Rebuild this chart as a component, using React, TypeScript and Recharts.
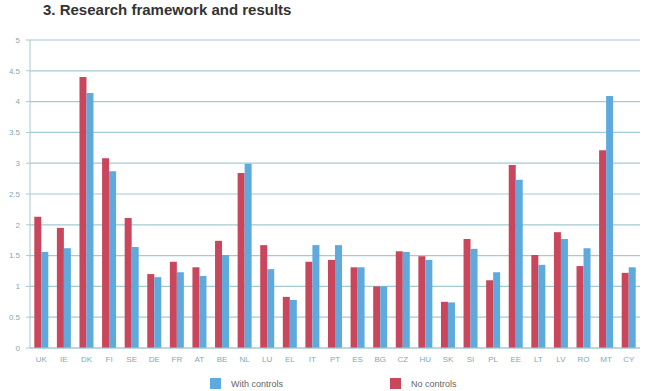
import { BarChart, Bar, XAxis, YAxis, CartesianGrid, Legend } from "recharts";

const countries = [
  "UK", "IE", "DK", "FI", "SE", "DE", "FR", "AT", "BE", "NL", "LU", "EL", "IT", "PT",
  "ES", "BG", "CZ", "HU", "SK", "SI", "PL", "EE", "LT", "LV", "RO", "MT", "CY",
];
const noControls = [
  2.13, 1.95, 4.4, 3.08, 2.11, 1.2, 1.4, 1.31, 1.74, 2.84, 1.67, 0.83, 1.4, 1.43,
  1.31, 1.0, 1.57, 1.49, 0.75, 1.77, 1.1, 2.97, 1.51, 1.88, 1.33, 3.21, 1.22,
];
const withControls = [
  1.56, 1.62, 4.14, 2.87, 1.64, 1.15, 1.23, 1.17, 1.51, 2.99, 1.28, 0.78, 1.67, 1.67,
  1.31, 1.0, 1.56, 1.43, 0.74, 1.61, 1.23, 2.73, 1.35, 1.77, 1.62, 4.09, 1.31,
];
const yTicks = [0, 0.5, 1, 1.5, 2, 2.5, 3, 3.5, 4, 4.5, 5];

const RED = "#c9465c";
const BLUE = "#5eaadd";
const GRID = "#a3cbd2";
const LABEL = "#86a9b0";

const data = countries.map((c, i) => ({
  country: c,
  noControls: noControls[i],
  withControls: withControls[i],
}));

// legend shows "With controls" first, then "No controls"
const legendLeft = [210, 390];

function LegendBox({ payload }: any) {
  const items = [...(payload || [])].reverse();
  return (
    <div style={{ position: "relative", height: 24 }}>
      {items.map((it: any, i: number) => (
        <div key={it.value} style={{ position: "absolute", left: legendLeft[i], top: 11, display: "flex", alignItems: "center" }}>
          <span style={{ width: 11, height: 11, background: it.color, display: "inline-block", flexShrink: 0, marginRight: 10 }} />
          <span style={{ fontSize: 9, color: "#666", whiteSpace: "nowrap" }}>{it.value}</span>
        </div>
      ))}
    </div>
  );
}

export default function App() {
  return (
    <div style={{ position: "absolute", left: 0, top: 0, width: 645, height: 391, background: "#fff", fontFamily: "Liberation Sans, Arial, sans-serif" }}>
      <div style={{ position: "absolute", left: 43, top: 1, fontSize: 15, fontWeight: "bold", color: "#333" }}>
        3. Research framework and results
      </div>
      <BarChart
        width={645}
        height={391}
        data={data}
        margin={{ top: 40, right: 5, bottom: 0, left: 0 }}
        barCategoryGap="19%"
        barGap={0}
      >
        <CartesianGrid vertical={false} stroke={GRID} strokeWidth={1.2} />
        <XAxis
          dataKey="country"
          height={19}
          interval={0}
          tick={{ fontSize: 8, fill: LABEL }}
          tickLine={false}
          axisLine={{ stroke: GRID }}
        />
        <YAxis
          width={30}
          domain={[0, 5]}
          ticks={yTicks}
          interval={0}
          tick={{ fontSize: 8, fill: LABEL, dx: -4 }}
          tickSize={4}
          tickLine={{ stroke: GRID }}
          axisLine={{ stroke: GRID }}
        />
        <Legend verticalAlign="bottom" height={24} content={LegendBox} />
        <Bar dataKey="noControls" name="No controls" fill={RED} isAnimationActive={false} />
        <Bar dataKey="withControls" name="With controls" fill={BLUE} isAnimationActive={false} />
      </BarChart>
    </div>
  );
}
